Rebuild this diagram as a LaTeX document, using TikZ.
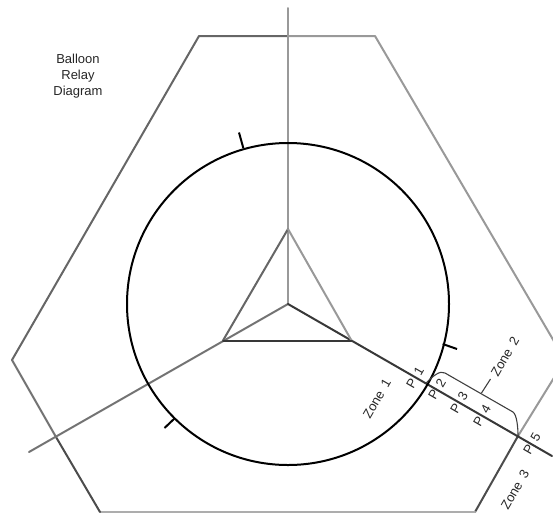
\documentclass[tikz,border=0pt]{standalone}
\usepackage{fontspec}
\setmainfont[WordSpace=1.7]{Liberation Sans}
\tikzset{
  lbl/.style={font=\fontsize{13}{16}\selectfont,inner sep=0pt,text=black!85},
  rlbl/.style={lbl,rotate=60},
  ln/.style={line width=2pt,line cap=round,line join=round},
  blk/.style={line width=2pt,black,line cap=butt}
}
\definecolor{cA}{gray}{0.60}
\definecolor{cB}{gray}{0.40}
\definecolor{cC}{gray}{0.45}
\definecolor{cD}{gray}{0.22}
\definecolor{cE}{gray}{0.30}
\definecolor{cF}{gray}{0.68}
\begin{document}
\begin{tikzpicture}[x=1pt,y=-1pt]
\path[use as bounding box] (0,0) rectangle (553,512);
\clip (0,0) rectangle (553,512);
\coordinate (O) at (288,304);
\coordinate (T) at (288,229);
\coordinate (R) at (351.5,340.5);
\coordinate (L) at (223,340.5);
\coordinate (H1) at (199,36);
\coordinate (H1m) at (288,36);
\coordinate (H2) at (375,36);
\coordinate (H3) at (565,360);
\coordinate (X3) at (518,436);
\coordinate (H4) at (475,512);
\coordinate (H5) at (100,512);
\coordinate (X6) at (56,437);
\coordinate (H6) at (12,360);
\coordinate (Etop) at (288,8);
\coordinate (Ese) at (552,456);
\coordinate (Esw) at (29,452);
% hexagon
\draw[ln,cB] (H6) -- (H1) -- (H1m);
\draw[ln,cA] (H1m) -- (H2) -- (H3) -- (X3);
\draw[ln,cE] (X3) -- (H4);
\draw[ln,cF] (H4) -- (H5);
\draw[ln,cE] (H5) -- (X6);
\draw[ln,cC] (X6) -- (H6);
% spokes
\draw[ln,cA] (O) -- (Etop);
\draw[ln,cC] (O) -- (Esw);
\draw[ln,cD] (O) -- (Ese);
% triangle
\draw[ln,cB] (L) -- (T);
\draw[ln,cA] (T) -- (R);
\draw[ln,cD] (L) -- (R);
% circle
\node[circle,draw=black,line width=2pt,minimum size=322pt,inner sep=0pt] (C) at (O) {};
% ticks
\coordinate (t1a) at (243.3,148); \coordinate (t1b) at (239,132.5);
\coordinate (t2a) at (442.7,344); \coordinate (t2b) at (457,349);
\coordinate (t3a) at (175,418); \coordinate (t3b) at (164.5,428);
\draw[blk] (t1a) -- (t1b);
\draw[blk] (t2a) -- (t2b);
\draw[blk] (t3a) -- (t3b);
% zone 2 bracket
\coordinate (b1) at (426,383);
\coordinate (b2) at (445,373);
\coordinate (b3) at (513,412);
\coordinate (b4) at (518,436);
\coordinate (lead1) at (481.5,393);
\coordinate (lead2) at (490.5,379);
\draw[line width=1.1pt,black!75] (b1) .. controls (433,376) and (440,370) .. (b2) -- (b3) .. controls (517,415) and (518,428) .. (b4);
\draw[line width=1.1pt,black!75] (lead1) -- (lead2);
% labels
\node[lbl,align=center] (title) at (78,76) {Balloon\\Relay\\Diagram};
\node[rlbl] (z1) at (377,399) {Zone 1};
\node[rlbl] (z2) at (505,357) {Zone 2};
\node[rlbl] (z3) at (515,490) {Zone 3};
\node[rlbl] (p1) at (415,378) {P 1};
\node[rlbl] (p2) at (437,389) {P 2};
\node[rlbl] (p3) at (459,403) {P 3};
\node[rlbl] (p4) at (482,416) {P 4};
\node[rlbl] (p5) at (532,444) {P 5};
\end{tikzpicture}
\end{document}
